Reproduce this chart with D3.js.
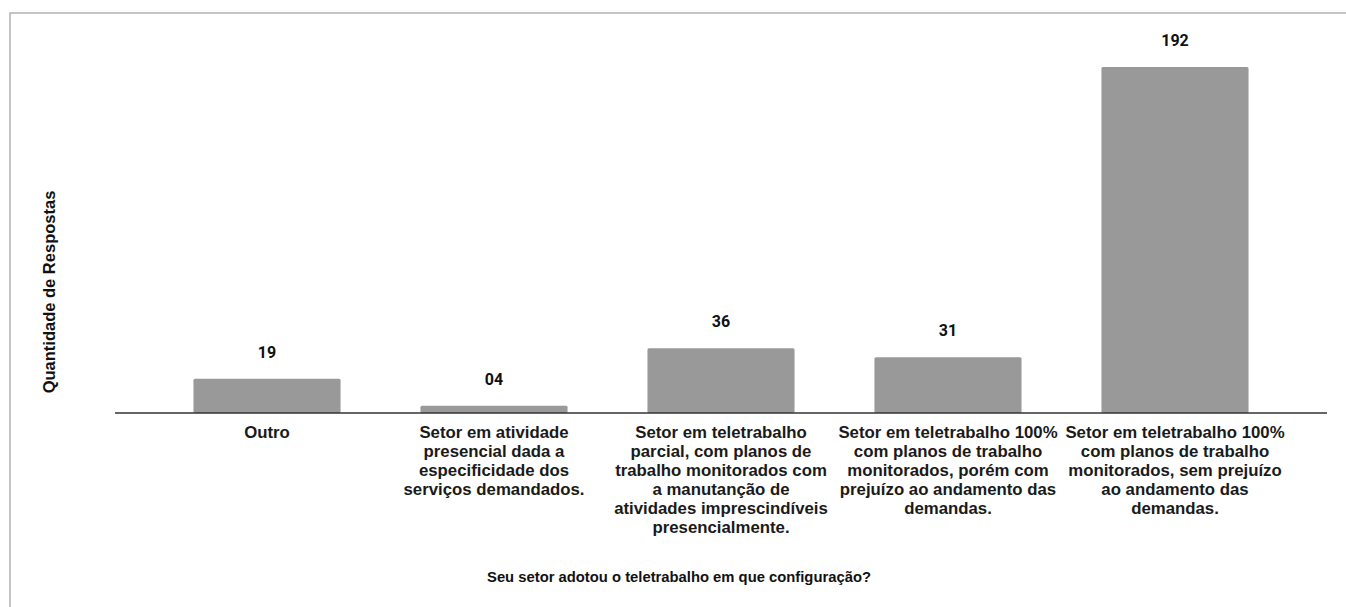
<!DOCTYPE html>
<html><head><meta charset="utf-8">
<script src="https://cdn.jsdelivr.net/npm/d3@7"></script>
<style>html,body{margin:0;padding:0;background:#fff;}svg{display:block;}</style>
</head><body>
<svg id="chart" width="1346" height="607"></svg>
<script>
const categories = [
  "Outro",
  "Setor em atividade\npresencial dada a\nespecificidade dos\nserviços demandados.",
  "Setor em teletrabalho\nparcial, com planos de\ntrabalho monitorados com\na manutanção de\natividades imprescindíveis\npresencialmente.",
  "Setor em teletrabalho 100%\ncom planos de trabalho\nmonitorados, porém com\nprejuízo ao andamento das\ndemandas.",
  "Setor em teletrabalho 100%\ncom planos de trabalho\nmonitorados, sem prejuízo\nao andamento das\ndemandas."
];
const values = [19, 4, 36, 31, 192];
const valueLabels = ["19", "04", "36", "31", "192"];
const yTitle = "Quantidade de Respostas";
const xTitle = "Seu setor adotou o teletrabalho em que configuração?";

const svg = d3.select("#chart");
const left = 115, right = 1327, baseY = 413, topY = 67;

// frame
svg.append("path").attr("d", "M10,607 L10,13 L1346,13")
  .attr("fill", "none").attr("stroke", "#b3b3b3").attr("stroke-width", 1.5);

const x = d3.scaleBand().domain(categories).range([left, right])
  .paddingInner(0.352).paddingOuter(0.3457);
const y = d3.scaleLinear().domain([0, 192]).range([baseY, topY]);

const data = categories.map((c, i) => ({c, v: values[i], l: valueLabels[i]}));

svg.append("g").selectAll("rect").data(data).join("rect")
  .attr("x", d => x(d.c)).attr("width", x.bandwidth())
  .attr("y", d => y(d.v)).attr("height", d => y(0) - y(d.v))
  .attr("rx", 1.5).attr("fill", "#999999");

svg.append("g").selectAll("text").data(data).join("text")
  .attr("x", d => x(d.c) + x.bandwidth() / 2)
  .attr("y", d => y(d.v) - 21)
  .attr("text-anchor", "middle")
  .attr("font-family", "Roboto, sans-serif").attr("font-weight", 700)
  .attr("font-size", 16).attr("fill", "#111")
  .text(d => d.l);

// axis
const axis = d3.axisBottom(x).tickSize(0).tickFormat("");
const ax = svg.append("g").attr("transform", `translate(0,${baseY})`).call(axis);
ax.select(".domain").attr("d", `M${left},0H${right}`).attr("stroke", "#333").attr("stroke-width", 1.5);

const lab = svg.append("g").selectAll("text").data(data).join("text")
  .attr("text-anchor", "middle")
  .attr("font-family", "'Liberation Sans', Arial, sans-serif").attr("font-weight", "bold")
  .attr("font-size", 16.8).attr("fill", "#1a1a1a")
  .attr("transform", d => `translate(${x(d.c) + x.bandwidth() / 2},${baseY + 25})`);
lab.each(function(d) {
  const t = d3.select(this);
  d.c.split("\n").forEach((line, i) => {
    t.append("tspan").attr("x", 0).attr("y", i * 19).text(line);
  });
});

svg.append("text")
  .attr("transform", "translate(55,292) rotate(-90)")
  .attr("text-anchor", "middle")
  .attr("font-family", "'Liberation Sans', Arial, sans-serif").attr("font-weight", "bold")
  .attr("font-size", 16.5).attr("fill", "#111").text(yTitle);

svg.append("text")
  .attr("x", 679).attr("y", 582)
  .attr("text-anchor", "middle")
  .attr("font-family", "'Liberation Sans', Arial, sans-serif").attr("font-weight", "bold")
  .attr("font-size", 14.8).attr("fill", "#111").text(xTitle);
</script>
</body></html>
